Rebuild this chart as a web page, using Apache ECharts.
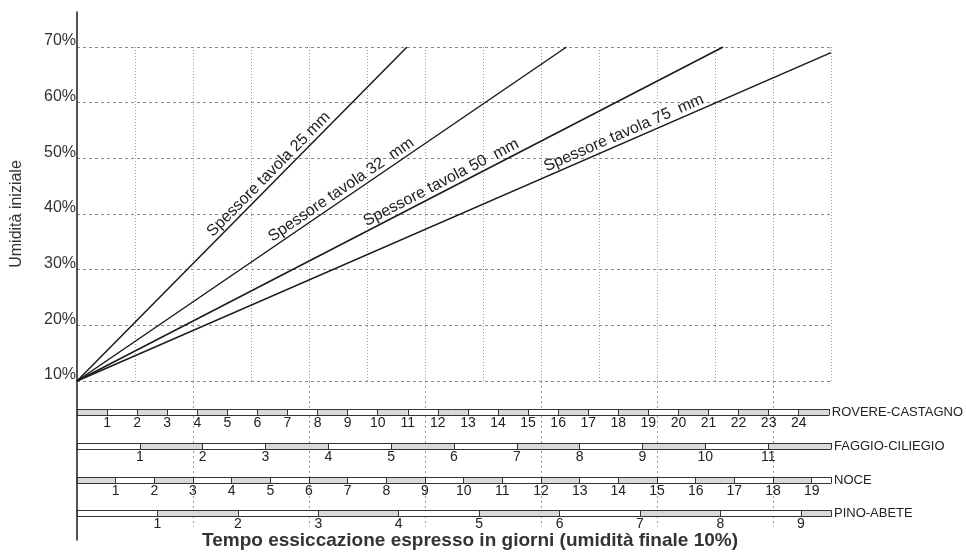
<!DOCTYPE html>
<html>
<head>
<meta charset="utf-8">
<script src="https://cdn.jsdelivr.net/npm/echarts@6/dist/echarts.min.js"></script>
<style>html,body{margin:0;padding:0;background:#fff;}#c{width:966px;height:554px;}</style>
</head>
<body>
<div id="c"></div>
<script>
// ---- data ----
const lineNames = ['Spessore tavola 25 mm', 'Spessore tavola 32  mm', 'Spessore tavola 50  mm', 'Spessore tavola 75  mm'];
const lineStartX = [0, 0, 0, 0];
const lineStartY = [10, 10, 10, 10];
const lineEndX = [5.69, 8.44, 11.14, 13];   // grid columns
const lineEndY = [70, 70, 70, 69];          // initial moisture %
const yTicks = [10, 20, 30, 40, 50, 60, 70];
const species = ['ROVERE-CASTAGNO', 'FAGGIO-CILIEGIO', 'NOCE', 'PINO-ABETE'];
const speciesMaxDays = [25, 12, 19.5, 9.375];
const speciesFirstShaded = [true, false, true, false];
const xTitle = 'Tempo essiccazione espresso in giorni (umidità finale 10%)';
const yTitle = 'Umidità iniziale';

// ---- layout / style ----
const FONT = 'Liberation Sans, Arial, Helvetica, sans-serif';
const L = 77, W = 754;
const labelFrac = [0.6, 0.55, 0.57, 0.73];
const scaleTops = [409, 443, 477, 510.5];
const GRAY = '#d9d9d9';

const grid = [
  { left: L, top: 47, width: W, height: 334 },         // 0 main
  { left: L, top: 381, width: W, height: 146 },        // 1 extension lines
  { left: L, top: 12, width: 1, height: 528 }          // 2 left axis line
];
const xAxis = [
  { gridIndex: 0, type: 'value', min: 0, max: 13, interval: 1,
    axisLine: { show: false }, axisTick: { show: false }, axisLabel: { show: false },
    splitLine: { show: true, showMinLine: false, lineStyle: { color: '#9a9a9a', width: 1, type: [1, 2] } } },
  { gridIndex: 1, type: 'value', min: 0, max: 13, interval: 2, z: 0,
    axisLine: { show: false }, axisTick: { show: false }, axisLabel: { show: false },
    splitLine: { show: true, showMinLine: false, showMaxLine: false, lineStyle: { color: '#9a9a9a', width: 1, type: [2, 3] } } },
  { gridIndex: 2, type: 'value', show: false }
];
const yAxis = [
  { gridIndex: 0, type: 'value', min: 10, max: 70, interval: 10,
    name: yTitle, nameLocation: 'middle', nameGap: 52,
    nameTextStyle: { fontFamily: FONT, fontSize: 16, color: '#333' },
    axisLine: { show: false }, axisTick: { show: false },
    axisLabel: { formatter: v => yTicks.includes(v) ? v + '%' : '', fontFamily: FONT, fontSize: 16, color: '#333', margin: 1, verticalAlign: 'bottom', padding: [0, 0, -2, 0] },
    splitLine: { show: true, lineStyle: { color: '#8a8a8a', width: 1, type: [3, 3] } } },
  { gridIndex: 1, type: 'value', min: 0, max: 1, show: false },
  { gridIndex: 2, type: 'value', min: 0, max: 1,
    axisLine: { show: true, lineStyle: { color: '#1a1a1a', width: 1.5 } },
    axisTick: { show: false }, axisLabel: { show: false }, splitLine: { show: false } }
];
const series = [];

species.forEach((name, i) => {
  const g = grid.length;
  const mx = speciesMaxDays[i];
  grid.push({ left: L, top: scaleTops[i], width: W, height: 6 });
  xAxis.push({ gridIndex: g, type: 'value', min: 0, max: mx, interval: 1, position: 'bottom', z: 3,
    axisLine: { show: true, lineStyle: { color: '#333', width: 1 } }, axisTick: { show: false },
    axisLabel: { fontFamily: FONT, fontSize: 14, color: '#222', margin: 1,
      formatter: v => (v > 0 && v < mx && Number.isInteger(v)) ? String(v) : '' },
    splitLine: { show: true, lineStyle: { color: '#333', width: 1 } },
    splitArea: { show: true, areaStyle: { color: speciesFirstShaded[i] ? [GRAY, '#ffffff'] : ['#ffffff', GRAY] } } });
  yAxis.push({ gridIndex: g, type: 'category', data: [name], position: 'right',
    axisLine: { show: false }, axisTick: { show: false },
    axisLabel: { fontFamily: FONT, fontSize: 13, color: '#222', margin: 3 } });
  series.push({ type: 'line', xAxisIndex: xAxis.length - 1, yAxisIndex: yAxis.length - 1, data: [] });
});
species.forEach((name, i) => {
  const g = 3 + i;
  xAxis.push({ gridIndex: g, type: 'value', min: 0, max: speciesMaxDays[i], position: 'top', z: 3,
    axisLine: { show: true, lineStyle: { color: '#333', width: 1 } }, axisTick: { show: false },
    axisLabel: { show: false }, splitLine: { show: false } });
});

lineNames.forEach((name, i) => {
  const x0 = lineStartX[i], y0 = lineStartY[i], x1 = lineEndX[i], y1 = lineEndY[i];
  const f = labelFrac[i], d = 0.04;
  const p = t => [x0 + (x1 - x0) * t, y0 + (y1 - y0) * t];
  series.push({
    type: 'line', name, xAxisIndex: 0, yAxisIndex: 0, symbol: 'none',
    lineStyle: { color: '#1a1a1a', width: 1.5 },
    data: [[x0, y0], [x1, y1]],
    markLine: {
      silent: true, symbol: ['none', 'none'], animation: false,
      lineStyle: { width: 0.01, color: 'rgba(255,255,255,0)', type: 'solid' },
      emphasis: { disabled: true },
      label: { show: true, position: 'insideMiddleTop', distance: 1, formatter: name,
        fontFamily: FONT, fontSize: 16, color: '#222' },
      data: [[{ coord: p(f - d) }, { coord: p(f + d) }]]
    }
  });
});

const chart = echarts.init(document.getElementById('c'), null, { renderer: 'canvas' });
chart.setOption({
  animation: false,
  backgroundColor: '#ffffff',
  grid, xAxis, yAxis, series,
  graphic: [{ type: 'text', x: 470, y: 541,
    style: { text: xTitle, fill: '#333', font: 'bold 19px ' + FONT, align: 'center', verticalAlign: 'middle', textAlign: 'center', textVerticalAlign: 'middle' } }]
});
</script>
</body>
</html>
